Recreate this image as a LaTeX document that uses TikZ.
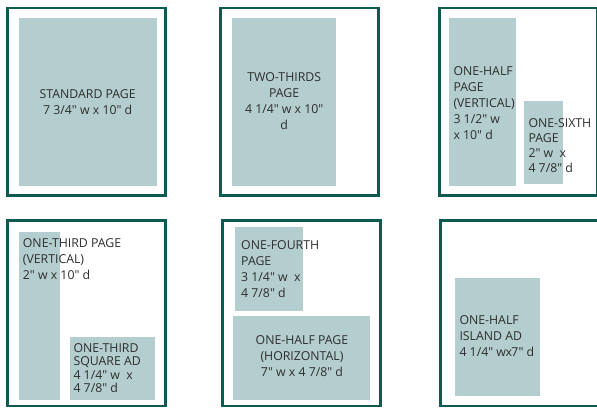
\documentclass[tikz,border=0pt]{standalone}
\usepackage{fontspec}
\newfontfamily\adfont{Open Sans}
\definecolor{frameteal}{HTML}{0D5A53}
\definecolor{adfill}{HTML}{B4CDCE}
\definecolor{adtext}{HTML}{2E2E2E}
\tikzset{
  pageframe/.style={draw=frameteal, line width=2.7pt},
  adbox/.style={fill=adfill},
  adlabel/.style={inner sep=0pt, text=adtext, font=\adfont\fontsize{12.3}{16}\selectfont},
  tightlabel/.style={adlabel, font=\adfont\fontsize{12.3}{13.4}\selectfont},
  midlabel/.style={adlabel, font=\adfont\fontsize{12.3}{15}\selectfont},
}
\begin{document}
\begin{tikzpicture}[x=1pt,y=-1pt]
\useasboundingbox (0,0) rectangle (597,407);
\clip (0,0) rectangle (597,407);
% Panel 1
\draw[pageframe] (7.6,8) rectangle (165.8,195.3);
\fill[adbox] (19,18) rectangle (157,186);
\node[adlabel, anchor=north, align=center] (p1) at (87.7,89.3) {STANDARD PAGE\\7 3/4" w x 10" d};
% Panel 2
\draw[pageframe] (220.7,8) rectangle (378.5,195.3);
\fill[adbox] (232,18) rectangle (336,186);
\node[adlabel, anchor=north, align=center] (p2) at (284.2,72.7) {TWO-THIRDS\\PAGE\\4 1/4" w x 10"\\d};
% Panel 3
\draw[pageframe] (439.7,8) rectangle (597.6,195.3);
\fill[adbox] (449,18) rectangle (516,186);
\fill[adbox] (524,100.7) rectangle (562.7,184.3);
\node[adlabel, anchor=north west, align=left] (p3a) at (453.3,66.3) {ONE-HALF\\PAGE\\(VERTICAL)\\3 1/2" w\\x 10" d};
\node[midlabel, anchor=north west, align=left] (p3b) at (528.3,118.3) {ONE-SIXTH\\PAGE\\2" w\ \ x\\4 7/8" d};
% Panel 4
\draw[pageframe] (7.6,220.5) rectangle (165.8,406);
\fill[adbox] (19,232) rectangle (60,399.5);
\fill[adbox] (70,337) rectangle (155,399.5);
\node[adlabel, anchor=north west, align=left] (p4a) at (22.7,238.3) {ONE-THIRD PAGE\\(VERTICAL)\\2" w x 10" d};
\node[tightlabel, anchor=north west, align=left] (p4b) at (73.3,343.3) {ONE-THIRD\\SQUARE AD\\4 1/4" w\ \ x\\4 7/8" d};
% Panel 5
\draw[pageframe] (222.3,220.5) rectangle (380.7,406);
\fill[adbox] (235,227) rectangle (303,311);
\fill[adbox] (233,316) rectangle (370,399.5);
\node[adlabel, anchor=north west, align=left] (p5a) at (241,240) {ONE-FOURTH\\PAGE\\3 1/4" w\ \ x\\4 7/8" d};
\node[adlabel, anchor=north, align=center] (p5b) at (302,335.7) {ONE-HALF PAGE\\(HORIZONTAL)\\7" w x 4 7/8" d};
% Panel 6
\draw[pageframe] (440.7,220.5) rectangle (600,406);
\fill[adbox] (455,278) rectangle (540,396);
\node[adlabel, anchor=north west, align=left] (p6) at (459.3,315.3) {ONE-HALF\\ISLAND AD\\4 1/4" w{\kern-0.5pt}x{\kern-0.5pt}7" d};
\end{tikzpicture}
\end{document}
